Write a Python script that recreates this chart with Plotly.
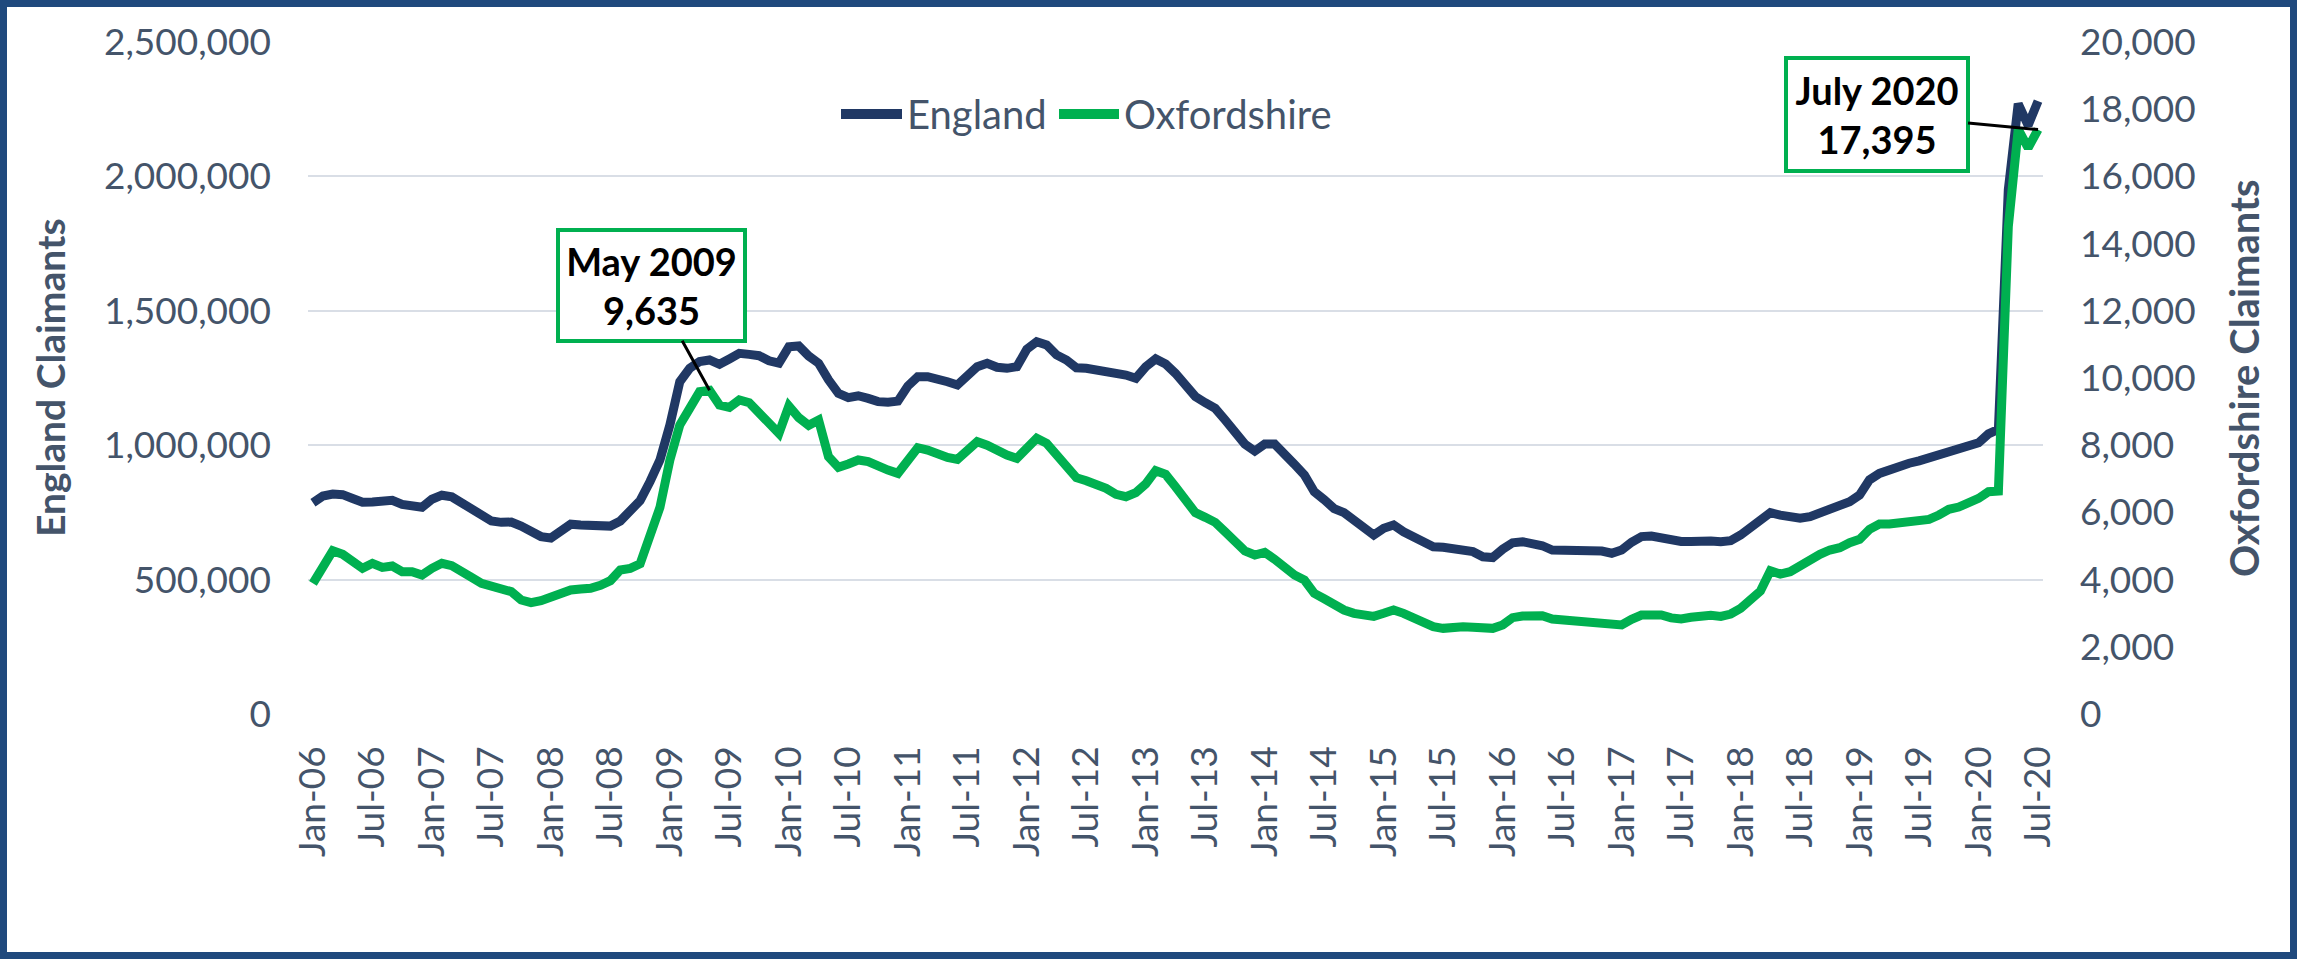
import plotly.graph_objects as go

# ---------------- data ----------------
month_names = ["Jan", "Feb", "Mar", "Apr", "May", "Jun", "Jul", "Aug", "Sep", "Oct", "Nov", "Dec"]
years = list(range(2006, 2021))
months = [f"{m}-{str(y)[2:]}" for y in years for m in month_names][:175]  # Jan-06 .. Jul-20

tick_labels = ["Jan-06", "Jul-06", "Jan-07", "Jul-07", "Jan-08", "Jul-08", "Jan-09", "Jul-09",
               "Jan-10", "Jul-10", "Jan-11", "Jul-11", "Jan-12", "Jul-12", "Jan-13", "Jul-13",
               "Jan-14", "Jul-14", "Jan-15", "Jul-15", "Jan-16", "Jul-16", "Jan-17", "Jul-17",
               "Jan-18", "Jul-18", "Jan-19", "Jul-19", "Jan-20", "Jul-20"]

series_names = ["England", "Oxfordshire"]

england_k = [
    786, 811, 818, 816, 802, 788, 789, 792, 795, 780, 771, 769,
    799, 814, 808, 786, 764, 740, 718, 713, 714, 699, 678, 660,
    655, 682, 706, 703, 699, 697, 699, 718, 753, 794, 865, 945,
    1075, 1236, 1286, 1311, 1317, 1301, 1321, 1342, 1338, 1333, 1314, 1305,
    1366, 1369, 1332, 1305, 1243, 1193, 1177, 1184, 1174, 1162, 1160, 1164,
    1220, 1255, 1255, 1249, 1236, 1224, 1261, 1292, 1305, 1290, 1286, 1292,
    1357, 1385, 1373, 1336, 1317, 1288, 1286, 1280, 1274, 1271, 1261, 1249,
    1292, 1321, 1302, 1267, 1226, 1181, 1158, 1137, 1094, 1044, 1004, 978,
    1004, 1004, 970, 929, 889, 827, 797, 764, 749, 722, 685, 666,
    691, 703, 678, 662, 641, 622, 620, 616, 610, 604, 585, 582,
    613, 637, 641, 635, 626, 610, 610, 613, 613, 613, 606, 598,
    610, 639, 660, 662, 654, 648, 642, 642, 645, 644, 641, 645,
    666, 697, 722, 749, 740, 730, 728, 734, 747, 759, 771, 790,
    815, 871, 895, 910, 916, 933, 942, 954, 960, 976, 988, 997,
    1009, 1042, 1059, 1950, 2270, 2190, 2280,
]
england = [v * 1000 for v in england_k]

oxfordshire = [
    3889, 4365, 4861, 4752, 4504, 4335, 4484, 4365, 4404, 4236, 4236, 4137,
    4335, 4484, 4414, 4266, 4068, 3889, 3790, 3740, 3641, 3393, 3313, 3373,
    3492, 3611, 3690, 3720, 3740, 3829, 3968, 4285, 4335, 4470, 5230, 6150,
    7559, 8601, 9097, 9593, 9635, 9196, 9127, 9345, 9266, 8968, 8700, 8353,
    9166, 8819, 8591, 8749, 7658, 7341, 7440, 7559, 7510, 7361, 7261, 7162,
    7559, 7926, 7857, 7728, 7638, 7579, 7857, 8105, 8000, 7820, 7708, 7609,
    7906, 8204, 8055, 7708, 7380, 7033, 6944, 6845, 6716, 6537, 6468, 6587,
    6845, 7242, 7132, 6766, 6319, 5992, 5853, 5704, 5426, 5099, 4851, 4732,
    4811, 4603, 4335, 4137, 3988, 3591, 3430, 3244, 3095, 2996, 2956, 2906,
    2996, 3095, 2996, 2847, 2698, 2599, 2549, 2589, 2599, 2579, 2559, 2549,
    2649, 2867, 2916, 2926, 2926, 2827, 2797, 2748, 2748, 2748, 2698, 2649,
    2649, 2817, 2946, 2946, 2946, 2860, 2827, 2877, 2936, 2936, 2906, 2976,
    3145, 3442, 3660, 4266, 4166, 4236, 4414, 4633, 4752, 4881, 4950, 5099,
    5198, 5495, 5654, 5654, 5674, 5704, 5754, 5793, 5922, 6091, 6160, 6270,
    6418, 6617, 6636, 14500, 17400, 16850, 17395,
]

# ---------------- styling ----------------
W, H = 2297, 959
ML, MR, MT, MB = 308, 2297 - 2043, 42, 959 - 714
PW, PH = W - ML - MR, H - MT - MB
FONT = "Lato"
TXT = "#44546A"
NAVY = "#203864"
GREEN = "#00B050"
BORDER = "#1F497D"


def px_to_paper_x(px):
    return (px - ML) / PW


def px_to_paper_y(py):
    return (H - MB - py) / PH


fig = go.Figure()
fig.add_trace(go.Scatter(x=months, y=england, name=series_names[0], mode="lines",
                         line=dict(color=NAVY, width=9), yaxis="y", showlegend=False))
fig.add_trace(go.Scatter(x=months, y=oxfordshire, name=series_names[1], mode="lines",
                         line=dict(color=GREEN, width=9), yaxis="y2", showlegend=False))

fig.update_layout(
    width=W, height=H, autosize=False,
    margin=dict(l=ML, r=MR, t=MT, b=MB, pad=0),
    paper_bgcolor="white", plot_bgcolor="white",
    font=dict(family=FONT, color=TXT, size=37),
    showlegend=False,
    xaxis=dict(type="category", categoryorder="array", categoryarray=months,
               tickmode="array", tickvals=tick_labels, ticktext=tick_labels,
               tickangle=-90, tickfont=dict(family=FONT, size=37, color=TXT),
               showgrid=False, showline=False, zeroline=False, ticks="",
               ticklabelstandoff=24, range=[-0.5, len(months) - 0.5]),
    yaxis=dict(range=[0, 2500000], dtick=500000, tick0=0, tickformat=",",
               tickfont=dict(family=FONT, size=37, color=TXT),
               showgrid=True, gridcolor="#D9DEE6", gridwidth=2,
               zeroline=False, showline=False, ticks="", ticklabelstandoff=36),
    yaxis2=dict(range=[0, 20000], dtick=2000, tick0=0, tickformat=",",
                overlaying="y", side="right",
                tickfont=dict(family=FONT, size=37, color=TXT),
                showgrid=False, zeroline=False, showline=False, ticks="",
                ticklabelstandoff=36),
)

annotations = [
    dict(x="May-09", y=9635, xref="x", yref="y2",
         text="<b>May 2009</b><br><b>9,635</b>",
         font=dict(family=FONT, size=38, color="black"),
         showarrow=True, arrowhead=0, arrowwidth=3, arrowcolor="black",
         ax=-58, ay=-105, axref="pixel", ayref="pixel",
         bordercolor=GREEN, borderwidth=4, borderpad=0, bgcolor="white",
         width=183, height=107, align="center", standoff=0),
    dict(x="Jul-20", y=17395, xref="x", yref="y2",
         text="<b>July 2020</b><br><b>17,395</b>",
         font=dict(family=FONT, size=38, color="black"),
         showarrow=True, arrowhead=0, arrowwidth=3, arrowcolor="black",
         ax=-161, ay=-15, axref="pixel", ayref="pixel",
         bordercolor=GREEN, borderwidth=4, borderpad=0, bgcolor="white",
         width=178, height=109, align="center", standoff=0),
    dict(x=px_to_paper_x(50), y=0.5, xref="paper", yref="paper",
         text="<b>England Claimants</b>", textangle=-90, showarrow=False,
         font=dict(family=FONT, size=39, color=TXT), xanchor="center", yanchor="middle"),
    dict(x=px_to_paper_x(2244), y=0.5, xref="paper", yref="paper",
         text="<b>Oxfordshire Claimants</b>", textangle=-90, showarrow=False,
         font=dict(family=FONT, size=40, color=TXT), xanchor="center", yanchor="middle"),
]

# custom legend (longer, thicker swatches as in the reference)
LEG_Y = 114
legend_items = [(series_names[0], NAVY, 841, 902, 905), (series_names[1], GREEN, 1059, 1119, 1122)]
for name, color, x0, x1, tx in legend_items:
    fig.add_shape(type="line", xref="paper", yref="paper",
                  x0=px_to_paper_x(x0), x1=px_to_paper_x(x1),
                  y0=px_to_paper_y(LEG_Y), y1=px_to_paper_y(LEG_Y),
                  line=dict(color=color, width=10))
    annotations.append(dict(x=px_to_paper_x(tx), y=px_to_paper_y(LEG_Y), xref="paper", yref="paper",
                            text=name, showarrow=False, xanchor="left", yanchor="middle",
                            font=dict(family=FONT, size=40, color=TXT)))

fig.update_layout(annotations=annotations)

# outer frame
fig.add_shape(type="rect", xref="paper", yref="paper",
              x0=px_to_paper_x(3.5), x1=px_to_paper_x(W - 3.5),
              y0=px_to_paper_y(H - 3.5), y1=px_to_paper_y(3.5),
              line=dict(color=BORDER, width=7), fillcolor="rgba(0,0,0,0)", layer="above")

fig.write_html("out.html", config={"displayModeBar": False},
               post_script="document.body.style.margin='0';")
